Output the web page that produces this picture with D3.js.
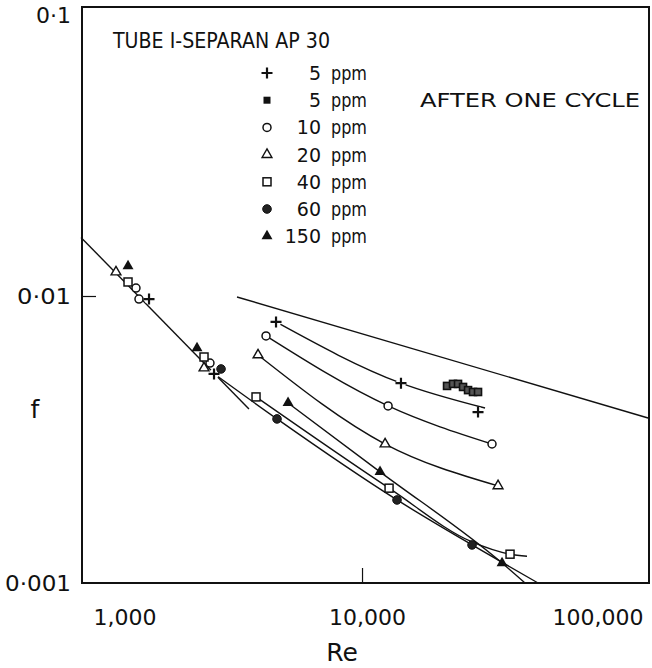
<!DOCTYPE html>
<html><head><meta charset="utf-8">
<script src="https://cdn.jsdelivr.net/npm/d3@7"></script>
<style>
body{margin:0;background:#fff;}
svg text{font-family:"DejaVu Sans","Liberation Sans",sans-serif;font-weight:normal;fill:#111;}
</style></head><body>
<svg id="chart" width="652" height="668"></svg>
<script>
// ---------------- data ----------------
const title = "TUBE I-SEPARAN AP 30";
const legendNumbers = ["5", "5", "10", "20", "40", "60", "150"];
const legendNotes = ["", "AFTER ONE CYCLE", "", "", "", "", ""];
const legendShapes = ["plus", "filledSquare", "circle", "triangle", "square", "filledCircle", "filledTriangle"];

const xTickValues = [1000, 10000, 100000];
const xTickLabels = ["1,000", "10,000", "100,000"];
const yTickValues = [0.1, 0.01, 0.001];
const yTickLabels = ["0·1", "0·01", "0·001"];

// markers (Re, f)
const re5 = [1746, 2974, 4943, 13760, 25870];
const f5 = [0.00976, 0.00535, 0.00812, 0.00497, 0.00394];
const re5cycle = [20070, 21080, 21960, 22880, 23840, 24830, 25870];
const f5cycle = [0.00486, 0.00494, 0.00494, 0.00482, 0.0047, 0.00463, 0.00463];
const re10 = [1569, 1608, 2877, 4554, 12380, 29010];
const f10 = [0.01066, 0.00976, 0.00584, 0.00726, 0.00414, 0.00305];
const re20 = [1332, 2740, 4265, 12080, 30480];
const f20 = [0.01212, 0.00561, 0.00623, 0.00305, 0.00218];
const re40 = [1470, 2740, 4196, 12480, 33630];
const f40 = [0.01119, 0.00613, 0.00445, 0.00214, 0.00126];
const re60 = [3150, 4983, 13320, 24630];
const f60 = [0.00557, 0.00373, 0.001947, 0.001357];
const re150 = [1470, 2587, 5455, 11590, 31500];
const f150 = [0.01272, 0.00659, 0.00424, 0.00244, 0.001174];

// drawn curves (Re, f)
const line5Re = [4943, 13760, 27400];
const line5F = [0.00812, 0.00497, 0.00407];
const line10Re = [4554, 12380, 29010];
const line10F = [0.00726, 0.00414, 0.00305];
const line20Re = [4265, 12080, 30480];
const line20F = [0.00623, 0.00305, 0.00218];
const line40Re = [4196, 12480, 24630, 33630, 38650];
const line40F = [0.00445, 0.00214, 0.00139, 0.00126, 0.00124];
const line150Re = [5455, 11590, 31500, 38020];
const line150F = [0.00424, 0.00244, 0.001174, 0.001];
const mdrRe = [2950, 4983, 13320, 24630, 42300];
const mdrF = [0.00539, 0.00373, 0.001947, 0.001357, 0.001];
const laminarRe = [1000, 3960];
const laminarF = [0.016, 0.00404];
const turbulentRe = [3590, 104200];
const turbulentF = [0.00992, 0.003757];

// ---------------- chart ----------------
const svg = d3.select("#chart");
const M = { left: 82, right: 649, top: 7, bottom: 583 };
const x = d3.scaleLog().domain([1000, 105000]).range([81, M.right]);
const y = d3.scaleLog().domain([0.001, 0.1]).range([M.bottom, 9]);

const zip = (a, b) => a.map((v, i) => [v, b[i]]);
const lineGen = d3.line().x(d => x(d[0])).y(d => y(d[1]));
const curveGen = d3.line().x(d => x(d[0])).y(d => y(d[1])).curve(d3.curveMonotoneX);

// frame
svg.append("rect").attr("x", M.left).attr("y", M.top).attr("width", M.right - M.left).attr("height", M.bottom - M.top)
  .attr("fill", "none").attr("stroke", "#111").attr("stroke-width", 2);

// axes
const yAxis = d3.axisLeft(y).tickValues(yTickValues)
  .tickFormat((d, i) => yTickLabels[i]).tickSizeInner(-14).tickSizeOuter(0).tickPadding(11);
const gy = svg.append("g").attr("transform", `translate(${M.left},0)`).call(yAxis);
gy.select(".domain").remove();
gy.selectAll(".tick line").attr("stroke", "#111").attr("stroke-width", 1.2)
  .attr("display", d => d === 0.01 ? null : "none");
gy.selectAll(".tick text").attr("font-size", 22).attr("fill", "#111")
  .attr("dy", d => d === 0.1 ? "0.6em" : "0.32em")
  .attr("textLength", d => d === 0.1 ? null : (d === 0.01 ? 54 : 66))
  .attr("lengthAdjust", "spacingAndGlyphs");

const xAxis = d3.axisBottom(x).tickValues(xTickValues)
  .tickFormat((d, i) => xTickLabels[i]).tickSizeInner(-15).tickSizeOuter(0).tickPadding(26);
const gx = svg.append("g").attr("transform", `translate(0,${M.bottom})`).call(xAxis);
gx.select(".domain").remove();
gx.selectAll(".tick line").attr("stroke", "#111").attr("stroke-width", 1.2)
  .attr("display", d => d === 10000 ? null : "none");
gx.selectAll(".tick text").attr("font-size", 22).attr("fill", "#111")
  .attr("text-anchor", (d, i) => i === 0 ? "start" : (i === 2 ? "end" : "middle"))
  .attr("dx", (d, i) => i === 0 ? 12 : (i === 2 ? 0 : 5));

svg.append("text").attr("x", 342).attr("y", 661).attr("text-anchor", "middle")
  .attr("font-size", 25).text("Re");
svg.append("text").attr("x", 35).attr("y", 418).attr("text-anchor", "middle")
  .attr("font-size", 25).text("f");

// reference lines
const plot = svg.append("g");
[[laminarRe, laminarF], [turbulentRe, turbulentF], [mdrRe, mdrF]].forEach(([a, b], i) => {
  plot.append("path").attr("d", (i === 2 ? curveGen : lineGen)(zip(a, b)))
    .attr("fill", "none").attr("stroke", "#111").attr("stroke-width", 1.4);
});
[[line5Re, line5F], [line10Re, line10F], [line20Re, line20F], [line40Re, line40F], [line150Re, line150F]]
  .forEach(([a, b]) => {
    plot.append("path").attr("d", curveGen(zip(a, b)))
      .attr("fill", "none").attr("stroke", "#111").attr("stroke-width", 1.4);
  });

// marker drawing
function drawMarker(g, shape, cx, cy) {
  const s = g.append("g").attr("transform", `translate(${cx},${cy})`);
  if (shape === "plus") {
    s.append("circle").attr("r", 5).attr("fill", "#fff");
    s.append("path").attr("d", "M-5.5,0H5.5M0,-5.5V5.5").attr("stroke", "#111").attr("stroke-width", 2.2);
  } else if (shape === "filledSquare") {
    s.append("rect").attr("x", -3.5).attr("y", -3.5).attr("width", 7).attr("height", 7)
      .attr("fill", "#555").attr("stroke", "#111").attr("stroke-width", 1.6);
  } else if (shape === "circle") {
    s.append("circle").attr("r", 4).attr("fill", "#fff").attr("stroke", "#111").attr("stroke-width", 1.5);
  } else if (shape === "triangle") {
    s.append("path").attr("d", d3.symbol(d3.symbolTriangle, 42)()).attr("fill", "#fff")
      .attr("stroke", "#111").attr("stroke-width", 1.4);
  } else if (shape === "square") {
    s.append("rect").attr("x", -4).attr("y", -4).attr("width", 8).attr("height", 8)
      .attr("fill", "#fff").attr("stroke", "#111").attr("stroke-width", 1.5);
  } else if (shape === "filledCircle") {
    s.append("circle").attr("r", 4.3).attr("fill", "#222").attr("stroke", "#111").attr("stroke-width", 1);
  } else if (shape === "filledTriangle") {
    s.append("path").attr("d", d3.symbol(d3.symbolTriangle, 52)()).attr("fill", "#111");
  }
}

const markerSets = [
  ["plus", re5, f5], ["filledSquare", re5cycle, f5cycle], ["circle", re10, f10],
  ["triangle", re20, f20], ["square", re40, f40], ["filledCircle", re60, f60],
  ["filledTriangle", re150, f150]
];
const mg = svg.append("g");
markerSets.forEach(([shape, a, b]) => {
  zip(a, b).forEach(d => drawMarker(mg, shape, x(d[0]), y(d[1])));
});

// legend
const lg = svg.append("g");
lg.append("text").attr("x", 113).attr("y", 48).attr("font-size", 21)
  .attr("textLength", 217).attr("lengthAdjust", "spacingAndGlyphs").text(title);
legendNumbers.forEach((n, i) => {
  const cy = 73 + i * 27.2;
  if (legendShapes[i] === "filledSquare") {
    lg.append("rect").attr("x", 263.5).attr("y", cy - 3.5).attr("width", 7).attr("height", 7).attr("fill", "#111");
  } else {
    drawMarker(lg, legendShapes[i], 267, cy);
  }
  lg.append("text").attr("x", 321).attr("y", cy + 7).attr("text-anchor", "end").attr("font-size", 19).text(n);
  lg.append("text").attr("x", 331).attr("y", cy + 7).attr("font-size", 19)
    .attr("textLength", 36).attr("lengthAdjust", "spacingAndGlyphs").text("ppm");
  if (legendNotes[i]) {
    lg.append("text").attr("x", 420).attr("y", cy + 7).attr("font-size", 19)
      .attr("textLength", 220).attr("lengthAdjust", "spacingAndGlyphs").text(legendNotes[i]);
  }
});
</script>
</body></html>
